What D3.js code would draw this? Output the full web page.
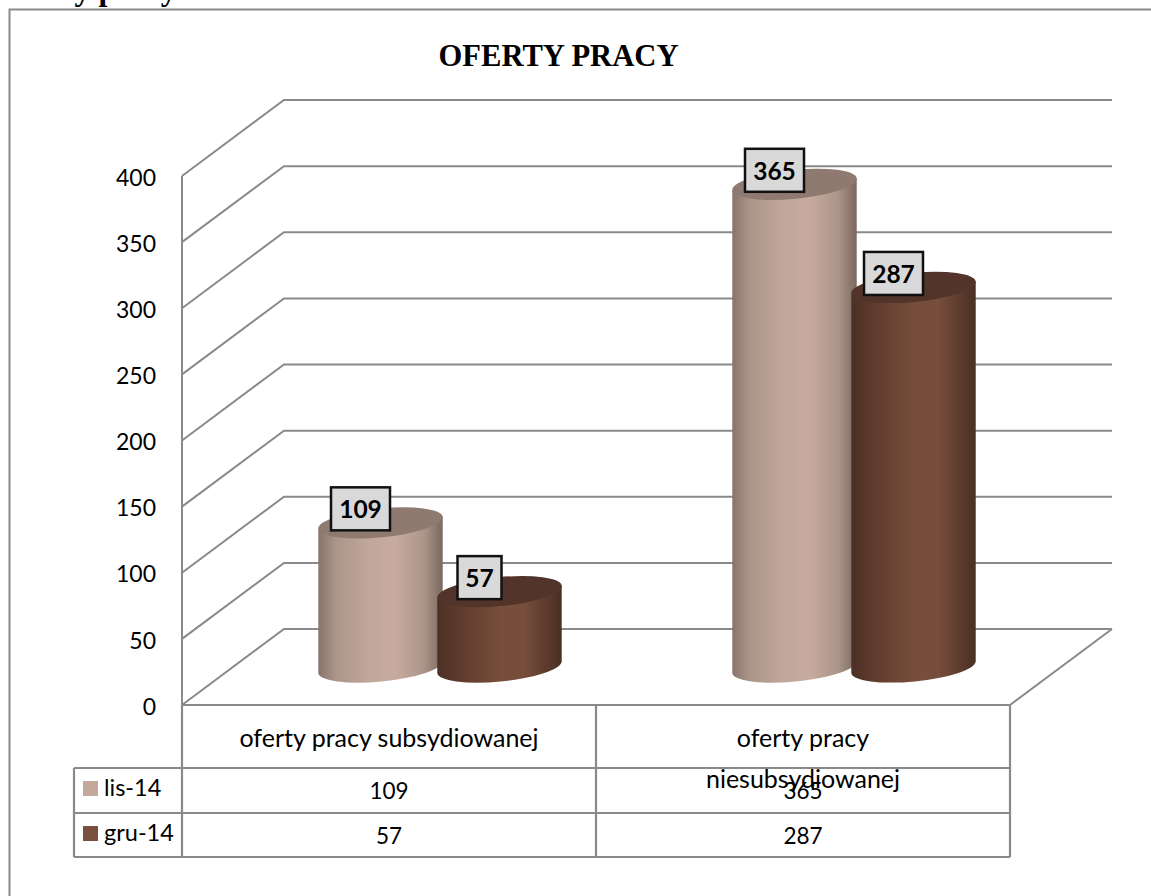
<!DOCTYPE html>
<html>
<head>
<meta charset="utf-8">
<script src="https://cdnjs.cloudflare.com/ajax/libs/d3/7.8.5/d3.min.js"></script>
<style>
  html, body { margin: 0; padding: 0; background: #fff; overflow: hidden; }
  text { font-family: Lato, sans-serif; fill: #000; }
</style>
</head>
<body>
<div id="chart"></div>
<script>
// values
var categories = ["oferty pracy subsydiowanej", "oferty pracy niesubsydiowanej"];
var categoryLines = [["oferty pracy subsydiowanej"], ["oferty pracy", "niesubsydiowanej"]];
var seriesNames = ["lis-14", "gru-14"];
var lis14 = [109, 365];
var gru14 = [57, 287];
var yTicks = [0, 50, 100, 150, 200, 250, 300, 350, 400];

var seriesValues = [lis14, gru14];
var swatch = ["#c4a89b", "#794f3e"];
var topFill = ["#8e7a70", "#52342a"];
var stops = [
  [["0%", "#88746c"], ["14%", "#ab9589"], ["40%", "#c0a79a"], ["62%", "#c7ab9e"], ["85%", "#ab9589"], ["100%", "#7c6860"]],
  [["0%", "#4c3025"], ["22%", "#623d2e"], ["50%", "#774d3c"], ["70%", "#774d3c"], ["88%", "#5c3b2c"], ["100%", "#4a2f24"]]
];

var width = 1151, height = 896;
var gridColor = "#8a8a8a";

// front-left corner of the 3d box and its depth offset
var left = 182, right = 1010, bottom = 705, top400 = 176;
var depthX = 102, depthY = -76;

var svg = d3.select("#chart")
  .append("svg")
    .attr("width", width)
    .attr("height", height)
    .style("display", "block");

var x = d3.scaleBand().domain(categories).range([left, right]);
var y = d3.scaleLinear().domain([0, 400]).range([bottom, top400]);
var xSeries = d3.scalePoint().domain(seriesNames).range([-59.5, 59.5]);

// text cut off by the top of the page
svg.append("text")
    .attr("x", 0)
    .attr("y", 0)
    .style("font-family", "'Liberation Serif', serif")
    .style("font-weight", "bold")
    .style("font-size", "32px")
    .text("Oferty pracy");

// outer frame, runs off the right and bottom of the picture
svg.append("path")
    .attr("d", "M9.5," + height + "V9.5H" + width)
    .attr("fill", "none")
    .attr("stroke", gridColor)
    .attr("stroke-width", 2);

// title
svg.append("text")
    .attr("x", 558.5)
    .attr("y", 66)
    .attr("text-anchor", "middle")
    .style("font-family", "'Liberation Serif', serif")
    .style("font-weight", "bold")
    .style("font-size", "30.6px")
    .text("OFERTY PRACY");

// side wall + back wall grid lines
var grid = svg.append("g")
    .attr("fill", "none")
    .attr("stroke", gridColor)
    .attr("stroke-width", 2);

grid.selectAll("path.gridline")
  .data(yTicks)
  .enter().append("path")
    .attr("class", "gridline")
    .attr("d", function(d) {
      return "M" + left + "," + y(d) +
        "L" + (left + depthX) + "," + (y(d) + depthY) +
        "H" + (right + depthX);
    });

// floor edge on the right and the vertical axis
grid.append("path")
    .attr("d", "M" + (right + depthX) + "," + (y(0) + depthY) + "L" + right + "," + y(0));
grid.append("path")
    .attr("d", "M" + left + "," + y(400) + "V" + y(0));

// y axis labels
var yAxis = svg.append("g")
    .attr("transform", "translate(" + left + ",0)")
    .call(d3.axisLeft(y).tickValues(yTicks).tickSize(0).tickPadding(26));
yAxis.select(".domain").remove();
yAxis.selectAll("text")
    .attr("dy", "0.4em")
    .style("font-family", "Lato, sans-serif")
    .style("font-size", "23px")
    .attr("fill", "#000");

// cylinder gradients
var defs = svg.append("defs");
seriesNames.forEach(function(name, s) {
  var g = defs.append("linearGradient").attr("id", "cyl" + s);
  stops[s].forEach(function(st) {
    g.append("stop").attr("offset", st[0]).attr("stop-color", st[1]);
  });
});

// cylinders
var rx = 62.5, ry = 14.5, tilt = -5.5;
var tx = rx * Math.cos(tilt * Math.PI / 180), ty = rx * Math.sin(tilt * Math.PI / 180);
var baseY = depthY / 2;

function cx(i, s) {
  return x(categories[i]) + x.bandwidth() / 2 + depthX / 2 + xSeries(seriesNames[s]);
}

var marks = [];
seriesNames.forEach(function(name, s) {
  categories.forEach(function(c, i) {
    marks.push({i: i, s: s, value: seriesValues[s][i]});
  });
});

var cyl = svg.selectAll("g.cyl")
  .data(marks)
  .enter().append("g")
    .attr("class", "cyl");

cyl.append("path")
    .attr("fill", function(d) { return "url(#cyl" + d.s + ")"; })
    .attr("d", function(d) {
      var c = cx(d.i, d.s), t = y(d.value) + baseY, b = y(0) + baseY;
      return "M" + (c - tx) + "," + (t - ty) +
        "V" + (b - ty) +
        "A" + rx + "," + ry + " " + tilt + " 0 0 " + (c + tx) + "," + (b + ty) +
        "V" + (t + ty) + "Z";
    });

cyl.append("ellipse")
    .attr("rx", rx)
    .attr("ry", ry)
    .attr("fill", function(d) { return topFill[d.s]; })
    .attr("transform", function(d) {
      return "translate(" + cx(d.i, d.s) + "," + (y(d.value) + baseY) + ") rotate(" + tilt + ")";
    });

// data labels
var labels = svg.selectAll("g.lab")
  .data(marks)
  .enter().append("g")
    .attr("class", "lab")
    .attr("transform", function(d) {
      return "translate(" + (cx(d.i, d.s) - 20) + "," + (y(d.value) + baseY - 14) + ")";
    });

labels.append("rect")
    .attr("x", function(d) { return d.value < 100 ? -22 : -29.5; })
    .attr("y", -21.5)
    .attr("width", function(d) { return d.value < 100 ? 44 : 59; })
    .attr("height", 43)
    .attr("fill", "#d9d9d9")
    .attr("stroke", "#111")
    .attr("stroke-width", 2.5);

labels.append("text")
    .attr("text-anchor", "middle")
    .attr("dy", "0.38em")
    .style("font-weight", "bold")
    .style("font-size", "24.5px")
    .text(function(d) { return d.value; });

// data table
var tableRows = [705, 768, 813, 857];
var tableLeft = 74;

var table = svg.append("g");

categoryLines.forEach(function(lines, i) {
  var mid = x(categories[i]) + x.bandwidth() / 2;
  lines.forEach(function(line, k) {
    table.append("text")
        .attr("x", mid)
        .attr("y", 747 + k * 41)
        .attr("text-anchor", "middle")
        .style("font-size", "25px")
        .text(line);
  });
  seriesNames.forEach(function(name, s) {
    table.append("text")
        .attr("x", mid)
        .attr("y", tableRows[s + 1] + 31)
        .attr("text-anchor", "middle")
        .style("font-size", "22.5px")
        .text(seriesValues[s][i]);
  });
});

seriesNames.forEach(function(name, s) {
  table.append("rect")
      .attr("x", 83)
      .attr("y", tableRows[s + 1] + 13)
      .attr("width", 15)
      .attr("height", 15)
      .attr("fill", swatch[s]);
  table.append("text")
      .attr("x", 104)
      .attr("y", tableRows[s + 1] + 28)
      .style("font-size", "23.5px")
      .text(name);
});

// table lines go over the text
var tableLines = table.append("g")
    .attr("fill", "none")
    .attr("stroke", gridColor)
    .attr("stroke-width", 2.2);

tableRows.forEach(function(r, k) {
  tableLines.append("path")
      .attr("d", "M" + (k === 0 ? left : tableLeft) + "," + r + "H" + right);
});
[left, x(categories[1]), right].forEach(function(v) {
  tableLines.append("path").attr("d", "M" + v + "," + tableRows[0] + "V" + tableRows[3]);
});
tableLines.append("path")
    .attr("d", "M" + tableLeft + "," + tableRows[1] + "V" + tableRows[3]);
</script>
</body>
</html>
